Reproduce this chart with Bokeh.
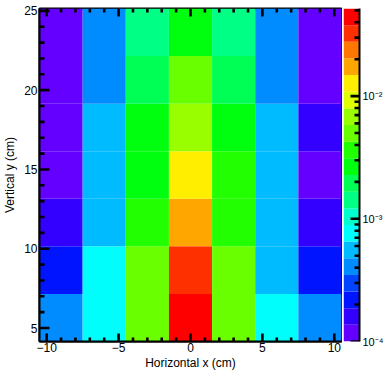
import colorsys
import math
from bokeh.plotting import figure
from bokeh.layouts import row
from bokeh.models import (ColumnDataSource, LogColorMapper, CustomJSTickFormatter,
                          SingleIntervalTicker, LogTicker, Range1d)
from bokeh.transform import transform
from bokeh.embed import file_html
from bokeh.resources import INLINE

# ---- data ----
x_edges = [-10.5, -7.5, -4.5, -1.5, 1.5, 4.5, 7.5, 10.5]
y_edges = [4.15, 7.15, 10.15, 13.15, 16.15, 19.15, 22.15, 25.15]
# rows from bottom (y=4.15..7.15) to top (22.15..25.15), columns left to right
row_1 = [4.1e-4, 7.6e-4, 4.9e-3, 4.9e-2, 5.1e-3, 7.5e-4, 4.0e-4]
row_2 = [2.2e-4, 7.7e-4, 5.0e-3, 3.2e-2, 5.0e-3, 5.6e-4, 2.1e-4]
row_3 = [1.6e-4, 5.6e-4, 3.6e-3, 1.7e-2, 3.7e-3, 5.5e-4, 1.6e-4]
row_4 = [1.2e-4, 5.5e-4, 2.7e-3, 1.27e-2, 3.5e-3, 5.6e-4, 1.2e-4]
row_5 = [1.2e-4, 5.5e-4, 2.6e-3, 6.8e-3, 2.7e-3, 5.5e-4, 1.6e-4]
row_6 = [1.2e-4, 4.1e-4, 1.9e-3, 5.0e-3, 1.95e-3, 4.0e-4, 1.2e-4]
row_7 = [1.15e-4, 4.1e-4, 1.4e-3, 2.7e-3, 1.4e-3, 4.0e-4, 1.15e-4]
rows = [row_1, row_2, row_3, row_4, row_5, row_6, row_7]
z_min = 1e-4
z_max = 0.0518
n_levels = 20

x_major_ticks = [-10, -5, 0, 5, 10]
x_minor_ticks = [-9, -8, -7, -6, -4, -3, -2, -1, 1, 2, 3, 4, 6, 7, 8, 9]
y_major_ticks = [5, 10, 15, 20, 25]
y_minor_ticks = [6, 7, 8, 9, 11, 12, 13, 14, 16, 17, 18, 19, 21, 22, 23, 24]
z_major_ticks = [1e-4, 1e-3, 1e-2]
z_minor_ticks = [m * 10.0 ** e for e in (-4, -3, -2) for m in range(2, 10) if m * 10.0 ** e <= z_max]

# ---- ROOT "pretty" palette (HLS, violet -> red), 20 contours ----
def root_palette(n_contours):
    base = []
    for i in range(50):
        hue = 280.0 - (i + 1) * (280.0 / 50)
        r, g, b = colorsys.hls_to_rgb(hue / 360.0, 0.5, 1.0)
        base.append("#%02x%02x%02x" % (round(r * 255), round(g * 255), round(b * 255)))
    return [base[int((c + 0.99) * 50 / n_contours)] for c in range(n_contours)]

palette = root_palette(n_levels)

left, right, bottom, top, vals = [], [], [], [], []
for j, r_ in enumerate(rows):
    for i, v in enumerate(r_):
        left.append(x_edges[i]); right.append(x_edges[i + 1])
        bottom.append(y_edges[j]); top.append(y_edges[j + 1])
        vals.append(v)
src = ColumnDataSource(dict(left=left, right=right, bottom=bottom, top=top, value=vals))

FONT = "Liberation Sans"
TICK = dict(line_color="black", line_width=2.6, length_units="screen")

# ---- main histogram ----
p = figure(width=342, height=372, output_backend="svg", toolbar_location=None,
           x_range=Range1d(x_edges[0], x_edges[-1]), y_range=Range1d(y_edges[0], y_edges[-1]),
           min_border_left=38, min_border_right=1, min_border_top=8, min_border_bottom=30)
p.grid.visible = False
p.outline_line_color = "black"
p.outline_line_width = 2
p.background_fill_color = "white"
p.border_fill_color = "white"

mapper = LogColorMapper(palette=palette, low=z_min, high=z_max)
p.quad(left="left", right="right", bottom="bottom", top="top", source=src,
       fill_color=transform("value", mapper), line_color=None)

# inward ticks on bottom, top and left edges of the frame
x0 = x_edges[0]
y0, y1 = y_edges[0], y_edges[-1]
p.ray(x=x_major_ticks, y=[y0] * len(x_major_ticks), length=8, angle=math.pi / 2, **TICK)
p.ray(x=x_minor_ticks, y=[y0] * len(x_minor_ticks), length=4, angle=math.pi / 2, **TICK)
p.ray(x=x_major_ticks, y=[y1] * len(x_major_ticks), length=8, angle=-math.pi / 2, **TICK)
p.ray(x=x_minor_ticks, y=[y1] * len(x_minor_ticks), length=4, angle=-math.pi / 2, **TICK)
p.ray(x=[x0] * len(y_major_ticks), y=y_major_ticks, length=10, angle=0.0, **TICK)
p.ray(x=[x0] * len(y_minor_ticks), y=y_minor_ticks, length=5, angle=0.0, **TICK)

for ax in (p.xaxis[0], p.yaxis[0]):
    ax.ticker = SingleIntervalTicker(interval=5, num_minor_ticks=5)
    ax.major_tick_in = 0
    ax.major_tick_out = 0
    ax.minor_tick_in = 0
    ax.minor_tick_out = 0
    ax.axis_line_color = "black"
    ax.axis_line_width = 2
    ax.major_label_text_font = FONT
    ax.major_label_text_font_size = "12px"
    ax.major_label_text_color = "black"
    ax.axis_label_text_font = FONT
    ax.axis_label_text_font_size = "12px"
    ax.axis_label_text_font_style = "normal"
    ax.axis_label_text_color = "black"

p.xaxis[0].axis_label = "Horizontal x (cm)"
p.xaxis[0].major_label_standoff = 1
p.xaxis[0].axis_label_standoff = 1
p.yaxis[0].axis_label = "Vertical y (cm)"
p.yaxis[0].major_label_standoff = 2
p.yaxis[0].axis_label_standoff = 4

# ---- colour palette bar ----
lz0, lz1 = math.log10(z_min), math.log10(z_max)
levels = [10 ** (lz0 + k * (lz1 - lz0) / n_levels) for k in range(n_levels + 1)]
cb_src = ColumnDataSource(dict(bottom=levels[:-1], top=levels[1:], color=palette))

c = figure(width=44, height=372, output_backend="svg", toolbar_location=None,
           y_axis_type="log", y_axis_location="right",
           x_range=Range1d(0, 1), y_range=Range1d(z_min, z_max),
           min_border_left=1, min_border_right=26, min_border_top=8, min_border_bottom=30)
c.grid.visible = False
c.xaxis.visible = False
c.outline_line_color = None
c.background_fill_color = "white"
c.border_fill_color = "white"
c.quad(left=0, right=1, bottom="bottom", top="top", source=cb_src,
       fill_color="color", line_color=None)
c.ray(x=[1] * len(z_major_ticks), y=z_major_ticks, length=9, angle=math.pi, **TICK)
c.ray(x=[1] * len(z_minor_ticks), y=z_minor_ticks, length=5, angle=math.pi, **TICK)

cax = c.yaxis[0]
cax.ticker = LogTicker()
cax.formatter = CustomJSTickFormatter(code="""
const sup = {"-": "\u207b", "0": "\u2070", "1": "\u00b9", "2": "\u00b2", "3": "\u00b3",
             "4": "\u2074", "5": "\u2075", "6": "\u2076", "7": "\u2077", "8": "\u2078", "9": "\u2079"};
const e = Math.round(Math.log10(tick));
return "10" + String(e).split("").map(ch => sup[ch]).join("");
""")
cax.major_tick_in = 0
cax.major_tick_out = 0
cax.minor_tick_in = 0
cax.minor_tick_out = 0
cax.axis_line_color = "black"
cax.axis_line_width = 2
cax.major_label_standoff = 3
cax.major_label_text_font = FONT
cax.major_label_text_font_size = "11px"
cax.major_label_text_color = "black"

layout = row(p, c)
open("out.html", "w").write(file_html(layout, INLINE))
